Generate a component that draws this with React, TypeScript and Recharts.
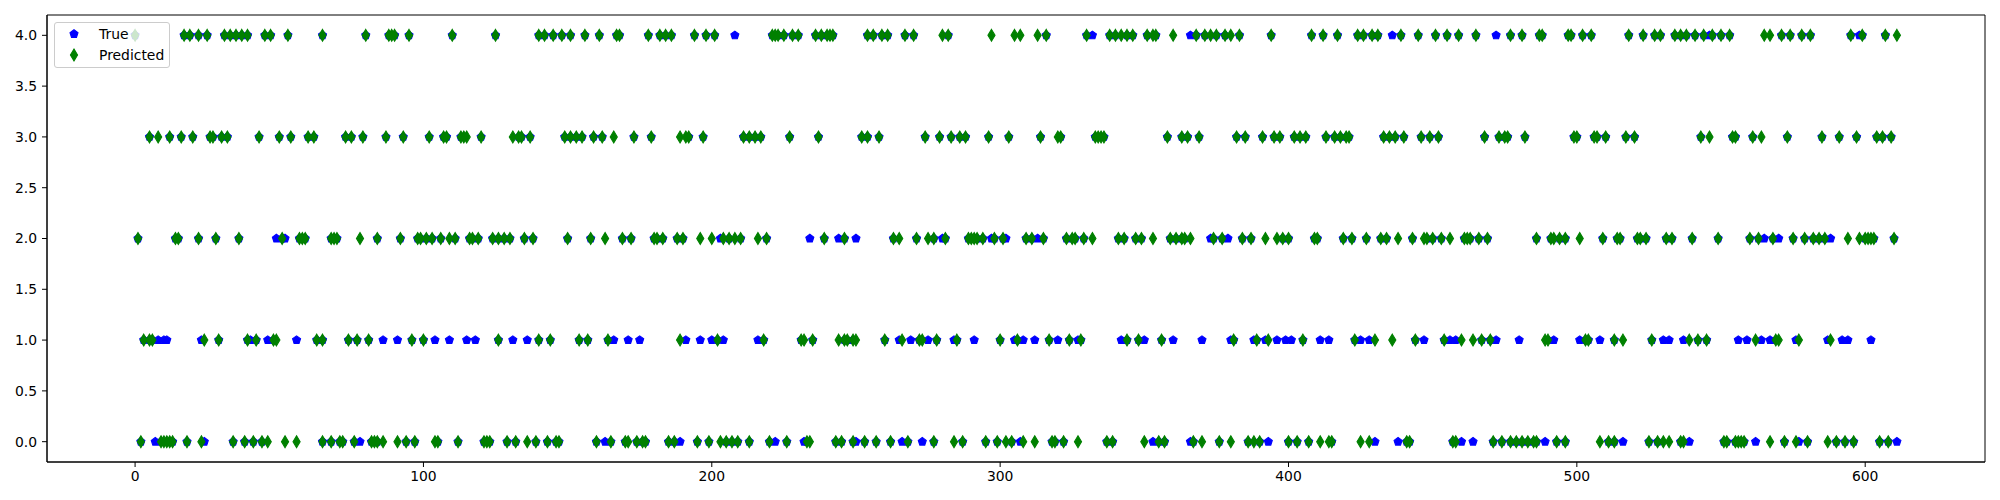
import { ScatterChart, Scatter, XAxis, YAxis, Legend, ReferenceArea } from 'recharts'

const xTicks = [0, 100, 200, 300, 400, 500, 600]
const yTicks = [0, 0.5, 1, 1.5, 2, 2.5, 3, 3.5, 4]
const classes = [0, 1, 2, 3, 4]

// sample index of every predicted point, one list per class row
const predicted0 = [
  2, 9, 10, 11, 12, 13, 18, 23, 34, 38, 41, 44, 46, 52, 56, 65, 68, 71, 72, 76, 82, 83, 84, 86, 91, 94, 97, 104,
  105, 112, 121, 122, 123, 129, 132, 136, 139, 143, 146, 147, 160, 165, 170, 171, 174, 176, 177, 185, 187, 195,
  199, 203, 205, 207, 209, 213, 220, 226, 233, 234, 243, 245, 249, 253, 257, 262, 268, 277, 284, 287, 295, 299,
  302, 304, 308, 312, 318, 319, 322, 327, 337, 339, 350, 355, 357, 367, 370, 376, 380, 386, 388, 390, 400, 403,
  407, 411, 414, 415, 425, 428, 441, 442, 457, 458, 471, 474, 477, 479, 481, 483, 485, 486, 493, 496, 508, 511,
  513, 525, 528, 530, 532, 536, 537, 551, 552, 555, 556, 557, 558, 567, 572, 576, 580, 587, 590, 593, 596, 605,
  608,
]
const predicted1 = [
  3, 5, 6, 24, 29, 39, 42, 48, 49, 63, 65, 74, 77, 81, 96, 100, 126, 140, 144, 154, 157, 164, 189, 202, 218, 231,
  232, 235, 244, 246, 247, 249, 250, 260, 266, 272, 273, 278, 285, 300, 306, 317, 324, 328, 344, 348, 356, 381,
  389, 393, 405, 423, 430, 436, 444, 454, 460, 464, 467, 470, 489, 490, 503, 504, 513, 516, 526, 539, 542, 545,
  562, 569, 570, 577, 588,
]
const predicted2 = [
  1, 14, 15, 22, 28, 36, 51, 57, 58, 59, 68, 69, 70, 78, 84, 92, 98, 99, 101, 103, 106, 109, 111, 116, 117, 119,
  124, 126, 128, 130, 135, 138, 150, 158, 163, 169, 172, 180, 181, 183, 188, 190, 196, 200, 204, 206, 208, 210,
  216, 219, 239, 246, 263, 265, 271, 275, 277, 281, 289, 290, 291, 292, 294, 298, 301, 309, 311, 315, 323, 325,
  326, 329, 332, 341, 343, 347, 349, 353, 359, 361, 363, 364, 366, 374, 377, 384, 387, 392, 396, 398, 400, 409,
  410, 419, 422, 427, 432, 434, 438, 443, 447, 448, 450, 453, 456, 461, 462, 463, 466, 469, 486, 491, 492, 494,
  496, 501, 509, 514, 515, 521, 522, 524, 531, 533, 540, 549, 560, 563, 568, 575, 579, 582, 584, 586, 594, 598,
  600, 601, 602, 603, 610,
]
const predicted3 = [
  5, 8, 12, 16, 20, 26, 27, 30, 32, 43, 50, 54, 60, 62, 73, 75, 79, 87, 93, 102, 107, 108, 113, 114, 115, 120, 131,
  133, 134, 137, 149, 151, 153, 155, 159, 162, 166, 173, 179, 189, 191, 192, 197, 211, 213, 215, 217, 227, 237,
  252, 254, 258, 274, 279, 283, 286, 288, 296, 303, 314, 320, 321, 333, 334, 335, 336, 358, 363, 365, 369, 382,
  385, 391, 395, 397, 402, 404, 406, 413, 416, 418, 420, 421, 433, 435, 437, 440, 446, 449, 452, 468, 473, 475,
  476, 482, 499, 500, 506, 507, 510, 517, 520, 543, 546, 554, 555, 561, 564, 573, 585, 591, 597, 604, 606, 609,
]
const predicted4 = [
  0, 17, 19, 22, 25, 31, 33, 35, 37, 39, 45, 47, 53, 65, 80, 88, 89, 90, 95, 110, 125, 140, 142, 145, 148, 151,
  156, 161, 167, 168, 178, 182, 184, 186, 194, 198, 201, 221, 222, 223, 225, 228, 230, 236, 238, 240, 241, 242,
  254, 256, 259, 261, 267, 270, 280, 282, 297, 305, 307, 313, 316, 330, 338, 340, 342, 344, 346, 351, 353, 354,
  360, 368, 371, 373, 375, 378, 380, 383, 394, 408, 412, 417, 424, 426, 429, 431, 439, 445, 451, 455, 459, 465,
  477, 481, 487, 488, 497, 498, 502, 505, 518, 523, 527, 529, 534, 536, 538, 541, 544, 547, 550, 553, 565, 567,
  571, 574, 578, 581, 595, 599, 607, 611,
]

// indices where the true class differs from the prediction (blue visible)
const true0 = [7, 24, 78, 163, 189, 222, 232, 250, 266, 273, 307, 353, 366, 393, 430, 438, 460, 464, 489, 516, 539, 562, 577, 611]
const true1 = [
  8, 10, 11, 23, 40, 46, 56, 86, 91, 104, 109, 115, 118, 131, 136, 166, 171, 175, 191, 196, 200, 204, 216, 265,
  269, 275, 284, 291, 305, 308, 312, 320, 327, 342, 350, 360, 370, 380, 388, 392, 396, 399, 401, 411, 414, 425,
  428, 447, 456, 458, 472, 480, 492, 501, 508, 530, 532, 537, 556, 559, 564, 567, 576, 587, 592, 594, 602,
]
const true2 = [49, 52, 203, 234, 244, 250, 280, 297, 302, 313, 373, 379, 565, 570, 588]
const true3: number[] = []
const true4 = [208, 332, 366, 436, 472, 546, 598]

const predictedRows = [predicted0, predicted1, predicted2, predicted3, predicted4]
const trueRows = [true0, true1, true2, true3, true4]

const predictedData = predictedRows.flatMap((xs, i) => xs.map((x) => ({ x, y: classes[i] })))
const missed = new Set(trueRows.flat())
const trueData = [
  ...trueRows.flatMap((xs, i) => xs.map((x) => ({ x, y: classes[i] }))),
  ...predictedData.filter((p) => !missed.has(p.x)),
]

const font = 'DejaVu Sans, sans-serif'
const tickStyle = { fill: '#000', fontSize: 13.9, fontFamily: font }

function pentagonPoints(cx: number, cy: number, r: number) {
  return [0, 1, 2, 3, 4]
    .map((k) => {
      const a = ((-90 + k * 72) * Math.PI) / 180
      return `${cx + r * Math.cos(a)},${cy + r * Math.sin(a)}`
    })
    .join(' ')
}

function Pentagon(props: any) {
  const { cx, cy } = props
  return <polygon points={pentagonPoints(cx, cy, 4.2)} fill="#0000ff" stroke="#0000ff" strokeWidth={1.1} />
}

function ThinDiamond(props: any) {
  const { cx, cy } = props
  return (
    <polygon
      points={`${cx},${cy - 5.9} ${cx + 3.55},${cy} ${cx},${cy + 5.9} ${cx - 3.55},${cy}`}
      fill="#008000"
      stroke="#008000"
      strokeWidth={1.1}
    />
  )
}

function LegendBox() {
  return (
    <div
      style={{
        position: 'relative',
        width: 116,
        height: 46,
        boxSizing: 'border-box',
        border: '1px solid #cccccc',
        borderRadius: 3,
        background: 'rgba(255,255,255,0.8)',
        fontFamily: font,
        fontSize: 13.9,
        color: '#000',
      }}
    >
      <svg width={116} height={46} style={{ position: 'absolute', left: -1, top: -1 }}>
        <polygon points={pentagonPoints(20, 12, 4.2)} fill="#0000ff" stroke="#0000ff" strokeWidth={1.1} />
        <polygon points="20,27.1 23.55,33 20,38.9 16.45,33" fill="#008000" stroke="#008000" strokeWidth={1.1} />
      </svg>
      <span style={{ position: 'absolute', left: 44, top: 3, lineHeight: '16px' }}>True</span>
      <span style={{ position: 'absolute', left: 44, top: 24, lineHeight: '16px' }}>Predicted</span>
    </div>
  )
}

export default function App() {
  return (
    <div style={{ position: 'absolute', left: 0, top: 0, background: '#fff' }}>
      <ScatterChart width={2000} height={500} margin={{ top: 15, right: 15, bottom: 8, left: 7 }}>
        <XAxis
          dataKey="x"
          type="number"
          domain={[-30.55, 641.55]}
          allowDataOverflow
          ticks={xTicks}
          height={30}
          tick={tickStyle}
          tickSize={5}
          tickMargin={4}
          axisLine={{ stroke: '#000' }}
          tickLine={{ stroke: '#000' }}
        />
        <YAxis
          dataKey="y"
          type="number"
          domain={[-0.2, 4.2]}
          allowDataOverflow
          ticks={yTicks}
          width={40}
          tick={tickStyle}
          tickSize={5}
          tickMargin={5}
          tickFormatter={(v: number) => v.toFixed(1)}
          axisLine={{ stroke: '#000' }}
          tickLine={{ stroke: '#000' }}
        />
        <ReferenceArea x1={-30.55} x2={641.55} y1={-0.2} y2={4.2} fill="none" stroke="#000" strokeWidth={1} ifOverflow="visible" />
        <Scatter name="True" data={trueData} shape={Pentagon} isAnimationActive={false} />
        <Scatter name="Predicted" data={predictedData} shape={ThinDiamond} isAnimationActive={false} />
        <Legend
          layout="vertical"
          align="center"
          verticalAlign="middle"
          wrapperStyle={{ position: 'absolute', left: 54, top: 22, width: 116, height: 46 }}
          content={() => <LegendBox />}
        />
      </ScatterChart>
    </div>
  )
}
